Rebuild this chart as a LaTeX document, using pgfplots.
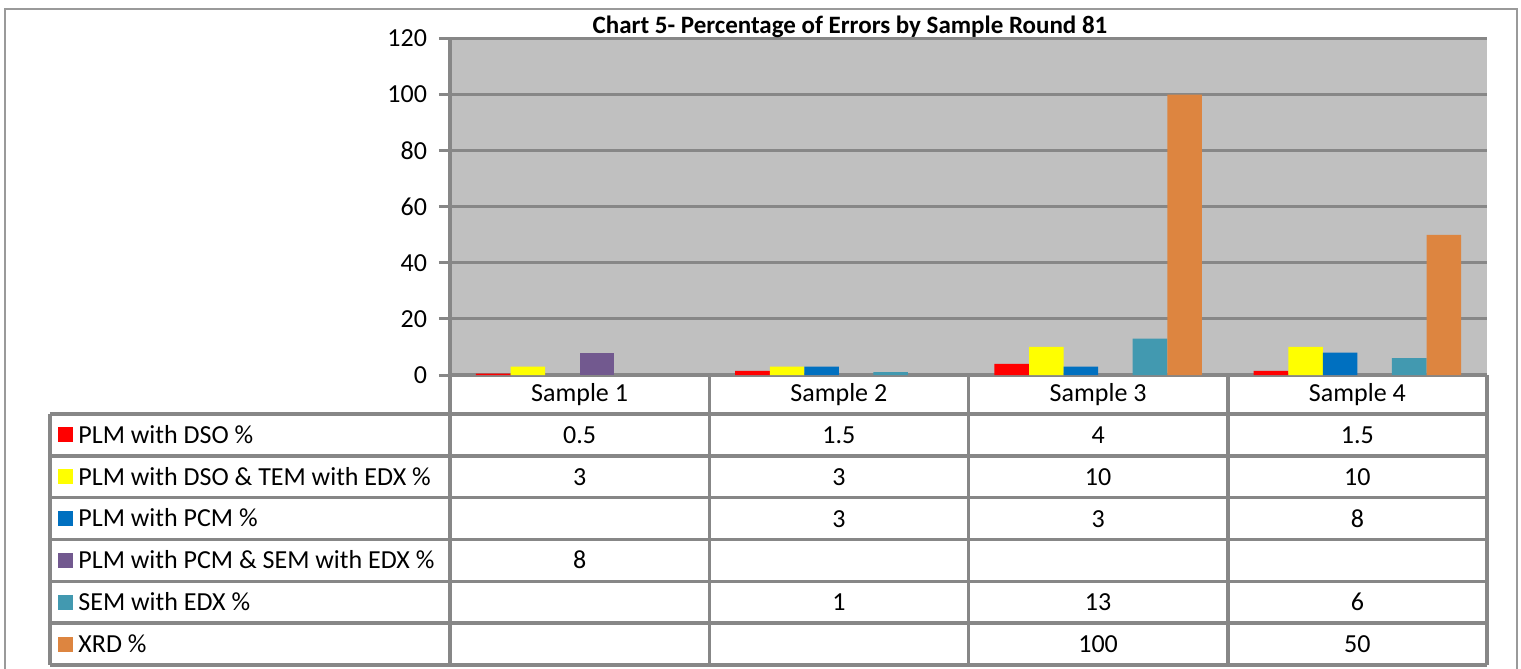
\documentclass[border=0pt]{standalone}
\usepackage{fontspec}
\setmainfont{Carlito}
\usepackage{pgfplots}
\pgfplotsset{compat=1.18}
\definecolor{cRed}{HTML}{FF0000}
\definecolor{cYel}{HTML}{FFFF00}
\definecolor{cBlu}{HTML}{0070C0}
\definecolor{cPur}{HTML}{72598F}
\definecolor{cTea}{HTML}{4299B0}
\definecolor{cOra}{HTML}{DD8540}
\definecolor{bg}{HTML}{C0C0C0}
\definecolor{ln}{HTML}{878787}
\definecolor{fr}{HTML}{9A9A9A}
\begin{document}
\begin{tikzpicture}
\path[use as bounding box] (-225pt,-147pt) rectangle (535.5pt,187.5pt);
\begin{axis}[
  at={(0,0)}, anchor=south west,
  scale only axis, width=518.5pt, height=168.25pt,
  xmin=-0.5, xmax=3.5, ymin=0, ymax=120,
  ytick={0,20,...,120},
  xtick={0,1,2,3}, xticklabels={Sample 1,Sample 2,Sample 3,Sample 4},
  axis background/.style={fill=bg},
  ymajorgrids, grid style={ln, line width=1.5pt},
  axis x line*=bottom, axis y line*=left,
  axis line style={-, ln, line width=2pt},
  tick align=outside, major tick length=5.5pt,
  ytick style={ln, line width=1.5pt},
  xtick style={draw=none},
  ticklabel style={font=\fontsize{13}{15}\selectfont},
  /pgf/number format/assume math mode=true,
  yticklabel style={xshift=-2.5pt},
  xticklabel style={anchor=center, yshift=-4.25pt},
  ybar=0pt, bar width=17.28pt,
  clip=false,
]
\addplot[fill=cRed, draw=none] coordinates {(0,0.5) (1,1.5) (2,4) (3,1.5)};
\addplot[fill=cYel, draw=none] coordinates {(0,3) (1,3) (2,10) (3,10)};
\addplot[fill=cBlu, draw=none] coordinates {(1,3) (2,3) (3,8)};
\addplot[fill=cPur, draw=none] coordinates {(0,8)};
\addplot[fill=cTea, draw=none] coordinates {(1,1) (2,13) (3,6)};
\addplot[fill=cOra, draw=none] coordinates {(2,100) (3,50)};
\end{axis}
\begin{scope}[x=0.5pt, y=0.5pt]
% outer frame
\draw[fr, line width=1pt] (-445,-300) -- (-445,366) -- (1067,366) -- (1067,-300);
% title
\node[anchor=base, font=\fontsize{12.5}{15}\selectfont\bfseries] at (400,341.7) {Chart 5- Percentage of Errors by Sample Round 81};
% table grid
\foreach \yy in {-39,-80.83,-122.67,-164.5,-206.33,-248.17,-290}
  \draw[ln, line width=1.75pt] (-400,\yy) -- (1037,\yy);
\draw[ln, line width=1.75pt] (-400,-39) -- (-400,-290);
\foreach \xx in {0,259.25,518.5,777.75,1037}
  \draw[ln, line width=1.75pt] (\xx,0) -- (\xx,-290);
% legend column
\tikzset{tx/.style={anchor=base, font=\fontsize{13}{15}\selectfont}}
\foreach \c/\t [count=\k from 0] in {cRed/PLM with DSO \%, cYel/PLM with DSO \& TEM with EDX \%, cBlu/PLM with PCM \%, cPur/PLM with PCM \& SEM with EDX \%, cTea/SEM with EDX \%, cOra/XRD \%}{
  \pgfmathsetmacro{\yc}{-39-41.83*(\k+0.5)}
  \fill[\c] (-392,\yc-7.5) rectangle ++(15,15);
  \node[tx, anchor=base west, inner sep=0pt] at (-372,\yc-8.4) {\t};
}
% values
\def\rowA{-68.3}\def\rowB{-110.1}\def\rowC{-152.0}\def\rowD{-193.8}\def\rowE{-235.6}\def\rowF{-277.5}
\node[tx] at (129.6,\rowA) {0.5};
\node[tx] at (388.9,\rowA) {1.5};
\node[tx] at (648.1,\rowA) {4};
\node[tx] at (907.4,\rowA) {1.5};
\node[tx] at (129.6,\rowB) {3};
\node[tx] at (388.9,\rowB) {3};
\node[tx] at (648.1,\rowB) {10};
\node[tx] at (907.4,\rowB) {10};
\node[tx] at (388.9,\rowC) {3};
\node[tx] at (648.1,\rowC) {3};
\node[tx] at (907.4,\rowC) {8};
\node[tx] at (129.6,\rowD) {8};
\node[tx] at (388.9,\rowE) {1};
\node[tx] at (648.1,\rowE) {13};
\node[tx] at (907.4,\rowE) {6};
\node[tx] at (648.1,\rowF) {100};
\node[tx] at (907.4,\rowF) {50};
\end{scope}
\end{tikzpicture}
\end{document}
